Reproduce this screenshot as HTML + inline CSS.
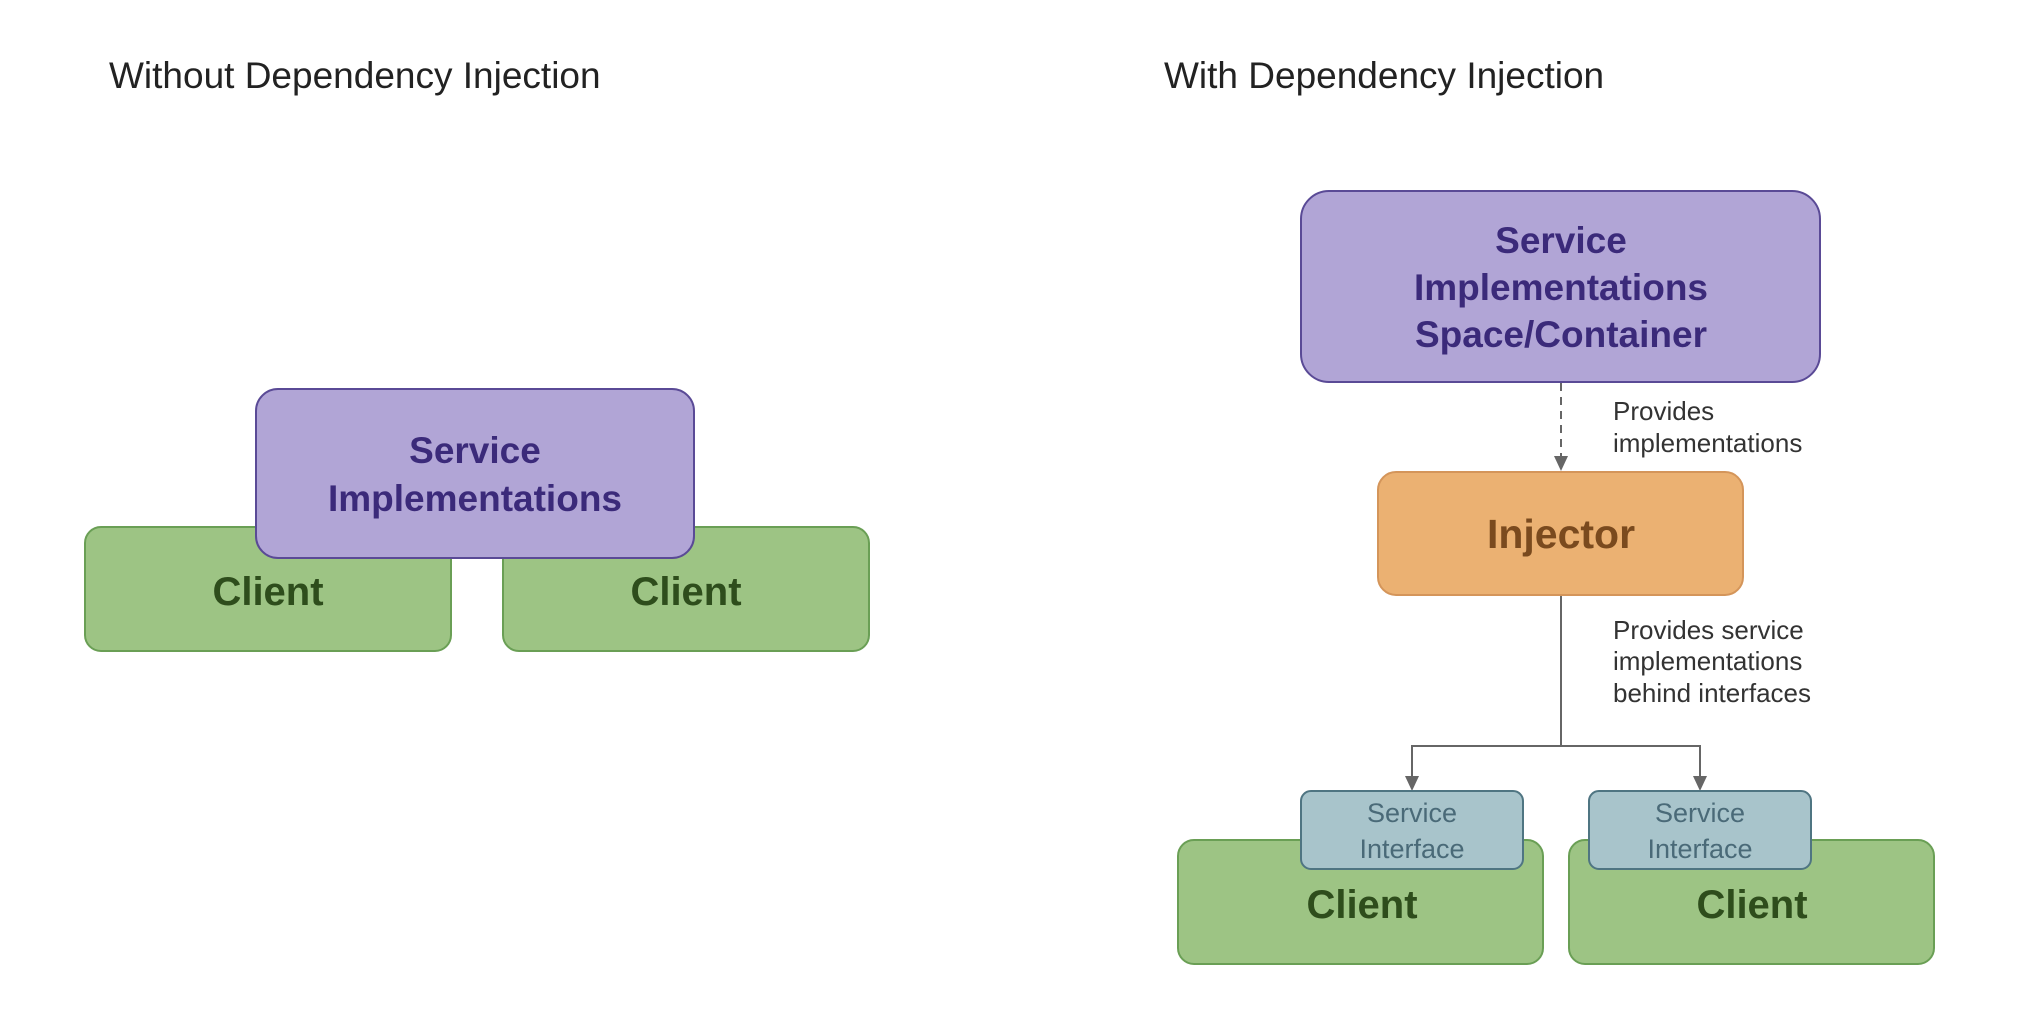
<!DOCTYPE html>
<html><head><meta charset="utf-8"><style>
html,body{margin:0;padding:0;background:#fff;}
svg{display:block;font-family:"Liberation Sans",Arial,sans-serif;}
</style></head><body>
<svg width="2040" height="1020" viewBox="0 0 2040 1020" xmlns="http://www.w3.org/2000/svg">
<defs>
<marker id="ah" markerWidth="10" markerHeight="10" refX="9" refY="5" orient="auto" markerUnits="userSpaceOnUse">
<path d="M0,0 L16,5 L0,10 z" fill="#666" transform="scale(0.6,1) translate(0,0)"/>
</marker>
</defs>
<text x="109" y="88" font-size="37" fill="#222">Without Dependency Injection</text>
<text x="1164" y="88" font-size="37" fill="#222">With Dependency Injection</text>

<!-- left -->
<rect x="85" y="527" width="366" height="124" rx="16" fill="#9dc484" stroke="#6a9f55" stroke-width="2"/>
<rect x="503" y="527" width="366" height="124" rx="16" fill="#9dc484" stroke="#6a9f55" stroke-width="2"/>
<text x="268" y="605" font-size="40" font-weight="bold" fill="#2e4d1c" text-anchor="middle">Client</text>
<text x="686" y="605" font-size="40" font-weight="bold" fill="#2e4d1c" text-anchor="middle">Client</text>
<rect x="256" y="389" width="438" height="169" rx="22" fill="#b1a5d6" stroke="#5a4a96" stroke-width="2"/>
<text x="475" y="463" font-size="37" font-weight="bold" fill="#3b2a7a" text-anchor="middle">Service</text>
<text x="475" y="511" font-size="37" font-weight="bold" fill="#3b2a7a" text-anchor="middle">Implementations</text>

<!-- right -->
<rect x="1301" y="191" width="519" height="191" rx="28" fill="#b1a5d6" stroke="#5a4a96" stroke-width="2"/>
<text x="1561" y="253" font-size="37" font-weight="bold" fill="#3b2a7a" text-anchor="middle">Service</text>
<text x="1561" y="300" font-size="37" font-weight="bold" fill="#3b2a7a" text-anchor="middle">Implementations</text>
<text x="1561" y="347" font-size="37" font-weight="bold" fill="#3b2a7a" text-anchor="middle">Space/Container</text>

<line x1="1561" y1="383" x2="1561" y2="460" stroke="#666" stroke-width="2" stroke-dasharray="8,6"/>
<path d="M1554,456 L1568,456 L1561,471 z" fill="#666"/>
<text x="1613" y="420" font-size="26" fill="#333">Provides</text>
<text x="1613" y="452" font-size="26" fill="#333">implementations</text>

<rect x="1378" y="472" width="365" height="123" rx="18" fill="#ebb172" stroke="#d4955a" stroke-width="2"/>
<text x="1561" y="548" font-size="41" font-weight="bold" fill="#7a4a1e" text-anchor="middle">Injector</text>

<line x1="1561" y1="596" x2="1561" y2="746" stroke="#666" stroke-width="2"/>
<polyline points="1412,778 1412,746 1700,746 1700,778" fill="none" stroke="#666" stroke-width="2"/>
<path d="M1405,776 L1419,776 L1412,791 z" fill="#666"/>
<path d="M1693,776 L1707,776 L1700,791 z" fill="#666"/>
<text x="1613" y="639" font-size="26" fill="#333">Provides service</text>
<text x="1613" y="670" font-size="26" fill="#333">implementations</text>
<text x="1613" y="702" font-size="26" fill="#333">behind interfaces</text>

<rect x="1178" y="840" width="365" height="124" rx="16" fill="#9dc484" stroke="#6a9f55" stroke-width="2"/>
<rect x="1569" y="840" width="365" height="124" rx="16" fill="#9dc484" stroke="#6a9f55" stroke-width="2"/>
<text x="1362" y="918" font-size="40" font-weight="bold" fill="#2e4d1c" text-anchor="middle">Client</text>
<text x="1752" y="918" font-size="40" font-weight="bold" fill="#2e4d1c" text-anchor="middle">Client</text>

<rect x="1301" y="791" width="222" height="78" rx="10" fill="#a8c4cb" stroke="#4f7582" stroke-width="2"/>
<rect x="1589" y="791" width="222" height="78" rx="10" fill="#a8c4cb" stroke="#4f7582" stroke-width="2"/>
<text x="1412" y="822" font-size="27" fill="#4a6a78" text-anchor="middle">Service</text>
<text x="1412" y="858" font-size="27" fill="#4a6a78" text-anchor="middle">Interface</text>
<text x="1700" y="822" font-size="27" fill="#4a6a78" text-anchor="middle">Service</text>
<text x="1700" y="858" font-size="27" fill="#4a6a78" text-anchor="middle">Interface</text>
</svg>
</body></html>
